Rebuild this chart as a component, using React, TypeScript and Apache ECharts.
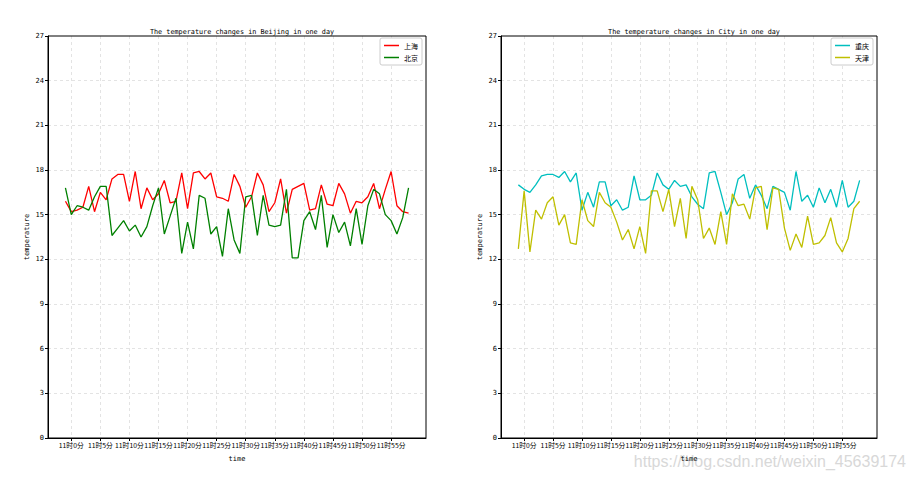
import React, { useEffect, useRef } from "react";
import * as echarts from "echarts";

// 11:00 .. 11:59, one reading per minute
const shanghai = [
  15.9, 15.2, 15.3, 15.5, 16.9, 15.2, 16.5, 16.0, 17.4, 17.7,
  17.7, 15.9, 17.9, 15.4, 16.8, 16.0, 16.4, 17.3, 15.8, 15.9,
  17.8, 15.4, 17.8, 17.9, 17.4, 17.8, 16.2, 16.1, 15.9, 17.7,
  16.9, 15.5, 16.2, 17.8, 17.0, 15.2, 15.8, 17.4, 15.1, 16.7,
  16.9, 17.1, 15.3, 15.4, 17.0, 15.7, 15.6, 17.1, 16.4, 15.1,
  15.9, 15.8, 16.2, 17.1, 15.4, 16.7, 17.9, 15.6, 15.2, 15.1,
];
const beijing = [
  16.8, 15.0, 15.6, 15.5, 15.3, 16.2, 16.9, 16.9, 13.6, 14.1,
  14.6, 13.9, 14.3, 13.5, 14.2, 15.6, 16.8, 13.7, 14.9, 16.1,
  12.4, 14.5, 12.7, 16.3, 16.1, 13.7, 14.2, 12.2, 15.4, 13.3,
  12.4, 16.2, 16.3, 13.6, 16.3, 14.3, 14.2, 14.3, 16.7, 12.1,
  12.1, 14.6, 15.2, 14.0, 16.3, 12.8, 15.0, 13.8, 14.5, 12.9,
  15.4, 13.0, 15.6, 16.7, 16.4, 15.0, 14.6, 13.7, 14.8, 16.8,
];
const chongqing = [
  17.0, 16.7, 16.5, 17.0, 17.6, 17.7, 17.7, 17.5, 17.9, 17.2,
  17.8, 15.3, 16.5, 15.5, 17.2, 17.2, 15.6, 16.0, 15.3, 15.5,
  17.6, 16.0, 16.0, 16.3, 17.8, 17.0, 16.7, 17.3, 16.9, 17.0,
  16.2, 15.7, 15.4, 17.8, 17.9, 16.5, 15.0, 15.8, 17.4, 17.7,
  16.1, 17.0, 16.3, 15.4, 16.9, 16.7, 16.5, 15.3, 17.9, 15.9,
  16.3, 15.5, 16.8, 15.8, 16.7, 15.5, 17.3, 15.5, 15.9, 17.3,
];
const tianjin = [
  12.7, 16.6, 12.5, 15.3, 14.7, 15.8, 16.2, 14.3, 15.0, 13.1,
  13.0, 16.0, 14.6, 14.2, 16.5, 15.8, 15.5, 14.5, 13.3, 14.0,
  12.7, 14.2, 12.4, 16.6, 16.6, 15.2, 16.7, 14.2, 16.1, 13.4,
  16.9, 16.0, 13.4, 14.1, 13.0, 15.2, 13.0, 16.4, 15.6, 15.7,
  14.7, 16.8, 16.9, 14.0, 16.8, 16.7, 14.1, 12.6, 13.7, 12.8,
  14.9, 13.0, 13.1, 13.6, 14.8, 13.1, 12.5, 13.4, 15.4, 15.9,
];
const tickLabels = [
  "11时0分", "11时5分", "11时10分", "11时15分", "11时20分", "11时25分",
  "11时30分", "11时35分", "11时40分", "11时45分", "11时50分", "11时55分",
];
const yMin = 0;
const yMax = 27;
const yStep = 3;

const FONT = "'DejaVu Sans Mono', 'Noto Sans CJK SC', monospace";
const CJK = "'Noto Sans CJK SC', 'DejaVu Sans Mono', sans-serif";

// category slots: data index -3 .. 62 (margins like matplotlib)
const PAD = 3;
const slots = Array.from({ length: 60 + 2 * PAD }, (_, c) => String(c - PAD));
const isTick = (c: number) => {
  const d = c - PAD - 1;
  return d >= 0 && d % 5 === 0 && d / 5 < tickLabels.length;
};

export default function App() {
  const ref = useRef<HTMLDivElement>(null);
  useEffect(() => {
    if (!ref.current) return;
    const chart = echarts.init(ref.current, null, { renderer: "svg" });
    const grids = [
      { left: 48, top: 36, width: 378, height: 402 },
      { left: 501, top: 36, width: 376, height: 402 },
    ];
    const xAxis = grids.map((_, gi) => ({
      type: "category",
      gridIndex: gi,
      data: slots,
      boundaryGap: false,
      name: "time",
      nameLocation: "middle",
      nameGap: 17,
      nameTextStyle: { fontFamily: FONT, fontSize: 7, color: "#000" },
      axisLine: { show: true, lineStyle: { color: "#000", width: 1 } },
      axisTick: {
        show: true,
        interval: (i: number) => isTick(i),
        length: 3,
        lineStyle: { color: "#000" },
      },
      axisLabel: {
        interval: (i: number) => isTick(i),
        formatter: (_v: string, i: number) =>
          isTick(i) ? tickLabels[(i - PAD - 1) / 5] : "",
        fontFamily: CJK,
        fontSize: 6.8,
        color: "#000",
        margin: 4,
      },
      splitLine: {
        show: true,
        interval: (i: number) => isTick(i),
        lineStyle: { color: "#dcdcdc", type: [3, 3], width: 0.8 },
      },
      z: 3,
    }));
    const yAxis = grids.map((_, gi) => ({
      type: "value",
      gridIndex: gi,
      min: yMin,
      max: yMax,
      interval: yStep,
      name: "temperature",
      nameLocation: "middle",
      nameGap: 18,
      nameTextStyle: { fontFamily: FONT, fontSize: 7, color: "#000" },
      axisLine: { show: true, lineStyle: { color: "#000", width: 1 } },
      axisTick: { show: true, length: 3, lineStyle: { color: "#000" } },
      axisLabel: { fontFamily: FONT, fontSize: 7, color: "#000", margin: 4 },
      splitLine: {
        show: true,
        showMinLine: false,
        showMaxLine: false,
        lineStyle: { color: "#dcdcdc", type: [3, 3], width: 0.8 },
      },
    }));
    const mk = (name: string, vals: number[], color: string, gi: number) => ({
      type: "line",
      name,
      xAxisIndex: gi,
      yAxisIndex: gi,
      data: vals.map((v, i) => [String(i), v]),
      symbol: "none",
      lineStyle: { color, width: 1.3 },
      itemStyle: { color },
      z: 4,
    });
    const legendBase = {
      orient: "vertical",
      top: 38,
      icon: "rect",
      itemWidth: 15,
      itemHeight: 1.5,
      itemGap: 3,
      padding: [3, 4, 3, 4],
      borderColor: "#cccccc",
      borderWidth: 1,
      borderRadius: 2,
      backgroundColor: "#fff",
      textStyle: { fontFamily: CJK, fontSize: 7, color: "#000", lineHeight: 9 },
      z: 10,
    };
    chart.setOption({
      animation: false,
      backgroundColor: "#fff",
      title: [
        {
          text: "The temperature changes in Beijing in one day",
          left: 237,
          top: 24,
          textAlign: "center",
          textStyle: { fontFamily: FONT, fontSize: 6.8, fontWeight: "normal", color: "#000" },
        },
        {
          text: "The temperature changes in City in one day",
          left: 689,
          top: 24,
          textAlign: "center",
          textStyle: { fontFamily: FONT, fontSize: 6.8, fontWeight: "normal", color: "#000" },
        },
      ],
      legend: [
        { ...legendBase, right: 494, data: ["上海", "北京"] },
        { ...legendBase, right: 43, data: ["重庆", "天津"] },
      ],
      grid: grids.map((g) => ({ ...g, show: true, borderColor: "#000", borderWidth: 1, containLabel: false, z: 5 })),
      xAxis,
      yAxis,
      series: [
        mk("上海", shanghai, "#ff0000", 0),
        mk("北京", beijing, "#008000", 0),
        mk("重庆", chongqing, "#00bfbf", 1),
        mk("天津", tianjin, "#bfbf00", 1),
      ],
      graphic: [
        {
          type: "text",
          right: 10,
          top: 453,
          style: {
            text: "https://blog.csdn.net/weixin_45639174",
            font: "16px 'Liberation Sans', Arial, sans-serif",
            fill: "#d8d8d8",
          },
        },
      ],
    });
    return () => chart.dispose();
  }, []);
  return (
    <div
      ref={ref}
      style={{ position: "fixed", left: 0, top: 0, width: 916, height: 482, background: "#fff" }}
    />
  );
}
